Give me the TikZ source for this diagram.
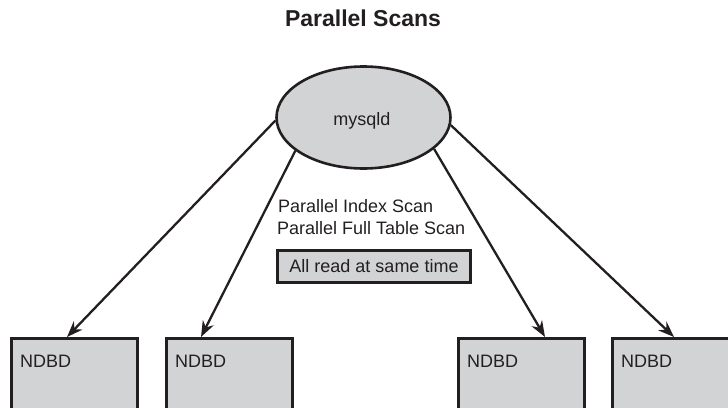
\documentclass[tikz,border=0pt]{standalone}
\usepackage{fontspec}
\setmainfont{Liberation Sans}
\usetikzlibrary{shapes.geometric,arrows.meta,calc}
\definecolor{boxgray}{RGB}{210,211,213}
\definecolor{ink}{RGB}{35,31,32}
\tikzset{
  ndbox/.style={draw=ink, line width=2.6pt, fill=boxgray, anchor=north west, minimum width=126pt, minimum height=100pt, inner sep=0pt},
  arr/.style={draw=ink, line width=2.3pt, -{Stealth[length=16pt,width=12pt]}},
  lbl/.style={font=\fontsize{18}{20}\selectfont, text=ink, inner sep=0pt},
}
\begin{document}
\begin{tikzpicture}[x=1pt,y=-1pt]
\useasboundingbox (0,0) rectangle (728,407);
\node[font=\bfseries\fontsize{23}{26}\selectfont, text=ink, anchor=base, inner sep=0pt] (title) at (363,26) {Parallel Scans};
\node[ellipse, draw=ink, line width=2.6pt, fill=boxgray, minimum width=174pt, minimum height=102pt, inner sep=0pt] (m) at (363.5,117.5) {};
\node[lbl, anchor=base] (mt) at (362,125) {mysqld};
\node[ndbox] (n1) at (10,337) {};
\node[ndbox] (n2) at (165,337) {};
\node[ndbox] (n3) at (457,337) {};
\node[ndbox] (n4) at (611,337) {};
\node[lbl, anchor=base west] (l1) at (20,367) {NDBD};
\node[lbl, anchor=base west] (l2) at (175,367) {NDBD};
\node[lbl, anchor=base west] (l3) at (467,367) {NDBD};
\node[lbl, anchor=base west] (l4) at (621,367) {NDBD};
\node[lbl, anchor=base west] (p1) at (278,212) {Parallel Index Scan};
\node[lbl, anchor=base west] (p2) at (277,234) {Parallel Full Table Scan};
\node[draw=ink, line width=2.6pt, fill=boxgray, minimum width=193pt, minimum height=32pt, inner sep=0pt, font=\fontsize{18}{20}\selectfont, text=ink] (all) at (374,266.5) {All read at same time};
\draw[arr] (m.182) -- ($(n1.north west)+(57,0)$);
\draw[arr] (m.206) -- ($(n2.north west)+(36,0)$);
\draw[arr] (m.336) -- ($(n3.north west)+(88,0)$);
\draw[arr] (m.355) -- ($(n4.north west)+(63,0)$);
\end{tikzpicture}
\end{document}
